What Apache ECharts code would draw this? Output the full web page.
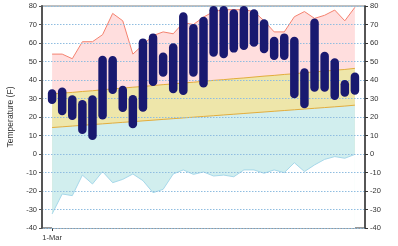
<!DOCTYPE html>
<html><head><meta charset="utf-8">
<script src="https://cdn.jsdelivr.net/npm/echarts@6/dist/echarts.min.js"></script>
<style>html,body{margin:0;padding:0;background:#fff}#c{width:398px;height:246px}</style>
</head><body><div id="c"></div>
<script>
var days = ['1-Mar','2-Mar','3-Mar','4-Mar','5-Mar','6-Mar','7-Mar','8-Mar','9-Mar','10-Mar','11-Mar','12-Mar','13-Mar','14-Mar','15-Mar','16-Mar','17-Mar','18-Mar','19-Mar','20-Mar','21-Mar','22-Mar','23-Mar','24-Mar','25-Mar','26-Mar','27-Mar','28-Mar','29-Mar','30-Mar','31-Mar'];
var recordHigh = [54,54,51.5,60.7,60.7,64.5,76,72,54,59,64,66,65,71,70,74,77,78,78,78,77,72,66,66,74.2,77,73.3,75,77.8,72,79.3];
var normalHigh = [32.4,32.9,33.3,33.8,34.2,34.7,35.2,35.6,36.1,36.5,37,37.5,37.9,38.4,38.8,39.3,39.8,40.2,40.7,41.1,41.6,42.1,42.5,43,43.4,43.9,44.4,44.8,45.3,45.7,46.3];
var normalLow = [14.3,14.7,15.1,15.5,15.9,16.3,16.7,17.1,17.5,17.9,18.3,18.7,19.1,19.5,19.9,20.3,20.7,21.1,21.5,21.9,22.3,22.7,23.1,23.5,23.9,24.3,24.7,25.1,25.5,25.9,26.4];
var recordLow = [-32.4,-21.6,-22.5,-11.4,-16.2,-9.5,-15.5,-13.7,-10.8,-14.4,-20.9,-19.1,-10.8,-8.6,-11,-9.7,-11.9,-11.4,-12.3,-8.6,-8.6,-10.4,-8.6,-10.1,-4.7,-9.5,-5.9,-2.9,-1.4,-2.3,-0.2];
var actualHigh = [35,36,31.7,29.2,31.7,53.1,53,36.9,31.9,62.5,65.2,54.8,59.8,76.6,70.3,74.2,80,80,78.2,80,78.2,72.8,63.4,65.2,63.4,46.3,73.3,55.3,51.7,40,44];
var actualLow = [27,21,18.4,10.8,7.6,18.7,32.4,22.7,13.9,22.9,36.8,41.8,32.8,31.9,41.8,36,52.6,51.7,54.8,56.2,58,54.4,50.8,50.8,30.1,24.7,33.7,33.7,29.2,31,32];
var yTicks = [-40,-30,-20,-10,0,10,20,30,40,50,60,70,80];

var cats = [''].concat(days, ['']);
function pad(a){ return [null].concat(a, [null]); }
var barData = actualHigh.map(function(h,i){ return [i+1, actualLow[i], h]; });

var chart = echarts.init(document.getElementById('c'), null, {renderer:'canvas'});
var lbl = {fontSize:7.5, color:'#333', fontFamily:'Liberation Sans, Arial, sans-serif'};
function areaSeries(data, lineColor, fillColor, z){
  return {type:'line', data:pad(data), symbol:'none', z:z, connectNulls:false,
    lineStyle:{color:lineColor, width:1}, areaStyle:{color:fillColor, opacity:1, origin:'start'},
    silent:true, animation:false};
}
chart.setOption({
  animation:false,
  grid:{left:42, right:33, top:6, bottom:18, containLabel:false, outerBoundsMode:'none',
    show:true, borderColor:'#aaa', borderWidth:1.5},
  xAxis:{type:'category', data:cats, boundaryGap:false,
    axisLine:{onZero:false, lineStyle:{color:'#999', width:2}},
    axisTick:{interval:function(i){return i===1;}, length:3, lineStyle:{color:'#333'}},
    axisLabel:Object.assign({interval:function(i){return i===1;}, margin:6}, lbl),
    splitLine:{show:false}},
  yAxis:[
    {type:'value', min:-40, max:80, interval:10, z:3, position:'left',
     name:'Temperature (F)', nameLocation:'middle', nameGap:27,
     nameTextStyle:{fontSize:8.5, color:'#333', fontFamily:'Liberation Sans, Arial, sans-serif'},
     axisLine:{show:true, lineStyle:{color:'#555', width:2}},
     axisTick:{show:true, length:3, lineStyle:{color:'#555'}},
     axisLabel:Object.assign({margin:5}, lbl),
     splitLine:{show:true, lineStyle:{color:'#8fbde0', type:[1.5,1.5], width:1}}},
    {type:'value', min:-40, max:80, interval:10, z:3, position:'right',
     axisLine:{show:true, lineStyle:{color:'#333', width:1.5}},
     axisTick:{show:true, length:3, lineStyle:{color:'#333'}},
     axisLabel:Object.assign({margin:5}, lbl),
     splitLine:{show:false}}
  ],
  series:[
    areaSeries(recordHigh, '#f4826f', '#ffdede', 1),
    areaSeries(normalHigh, '#e3ad3c', '#eee6aa', 1),
    areaSeries(normalLow, '#e3ad3c', '#d1eeee', 1),
    areaSeries(recordLow, '#a6d8ea', '#ffffff', 1),
    {type:'custom', z:5, data:barData, silent:true,
     renderItem:function(params, api){
       var top = api.coord([api.value(0), api.value(2)]);
       var bot = api.coord([api.value(0), api.value(1)]);
       var w = 8.5;
       return {type:'rect', shape:{x:top[0]-w/2, y:top[1], width:w, height:bot[1]-top[1], r:4.25},
         style:{fill:'#191970'}};
     },
     encode:{x:0, y:[1,2]}}
  ]
});
</script></body></html>
